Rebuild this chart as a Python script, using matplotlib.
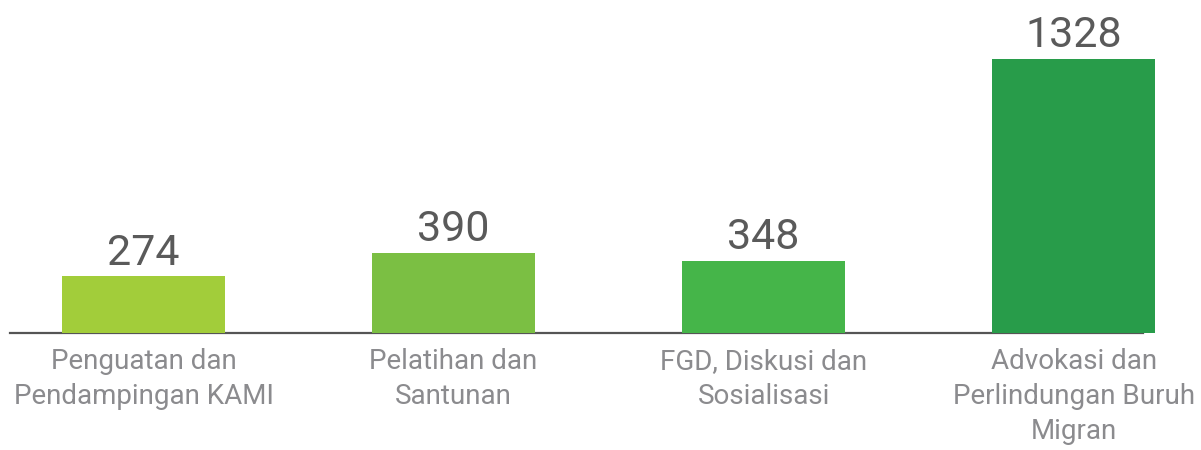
import matplotlib.pyplot as plt
import numpy as np

# Data
categories = [
    "Penguatan dan\nPendampingan KAMI",
    "Pelatihan dan\nSantunan",
    "FGD, Diskusi dan\nSosialisasi",
    "Advokasi dan\nPerlindungan Buruh\nMigran",
]
values = [274, 390, 348, 1328]
bar_colors = ["#a2cd3a", "#7bbf43", "#45b549", "#289c4a"]

FONT = ["Roboto", "DejaVu Sans"]


def creer_barres():
    fig = plt.figure(figsize=(12.01, 4.5), dpi=100)
    ax = fig.add_axes([0, 0, 1, 1])

    x = np.arange(len(values))
    ax.bar(x, values, width=0.526, color=bar_colors, zorder=2)

    # Ligne de base
    ax.axhline(0, xmin=10 / 1201, xmax=1143 / 1201, color="#555555",
               linewidth=1.6, zorder=1)

    # Valeurs au-dessus des barres
    for xi, v in zip(x, values):
        ax.annotate(str(v), (xi, v), xytext=(0, 2), textcoords="offset points",
                    ha="center", va="bottom", fontsize=31, color="#5a5a5a",
                    family=FONT)

    # Libellés sous les barres
    for xi, lab in zip(x, categories):
        ax.annotate(lab, (xi, 0), xytext=(0, -11), textcoords="offset points",
                    ha="center", va="top", fontsize=20, color="#8b8b8e",
                    family=FONT, linespacing=1.38)

    ax.set_xlim(-0.463, 3.411)
    ax.set_ylim(-567, 1614)
    ax.axis("off")

    fig.savefig("out.png", dpi=100)
    plt.close(fig)


if __name__ == "__main__":
    creer_barres()
